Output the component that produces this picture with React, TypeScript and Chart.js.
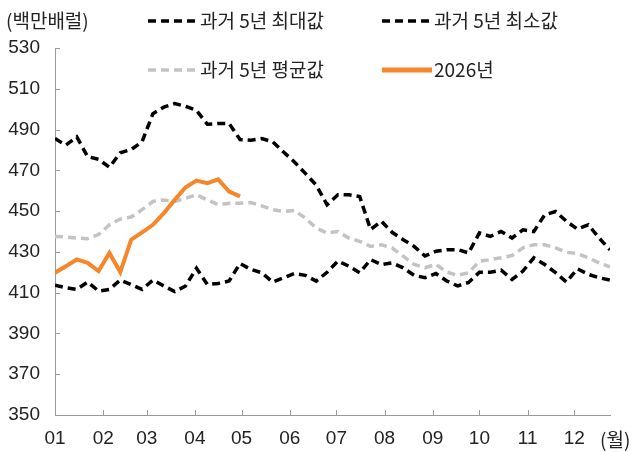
import React, { useEffect, useRef } from "react";
import { Chart, registerables } from "chart.js";

Chart.register(...registerables);

// weekly observations (week index 0..51), x = day of year
const weekIndex: number[] = [
  0, 1, 2, 3, 4, 5, 6, 7, 8, 9, 10, 11, 12, 13, 14, 15, 16, 17, 18, 19, 20, 21, 22, 23, 24, 25,
  26, 27, 28, 29, 30, 31, 32, 33, 34, 35, 36, 37, 38, 39, 40, 41, 42, 43, 44, 45, 46, 47, 48, 49, 50, 51,
];

const monthStartDays: number[] = [0, 31, 59, 90, 120, 151, 181, 212, 243, 273, 304, 334];
const monthLabels: string[] = ["01", "02", "03", "04", "05", "06", "07", "08", "09", "10", "11", "12"];
const yTickValues: number[] = [350, 370, 390, 410, 430, 450, 470, 490, 510, 530];

const max5y: number[] = [
  485.6, 482.4, 486.4, 476.7, 475.4, 471.5, 478.6, 480.2, 484.0, 497.8, 501.0, 502.7, 501.4,
  499.4, 492.6, 493.0, 493.0, 485.1, 484.8, 485.6, 484.0, 479.0, 474.1, 468.5, 462.8, 453.1,
  458.0, 458.0, 457.1, 441.0, 445.0, 439.5, 436.0, 432.7, 428.0, 430.3, 431.1, 431.1, 429.5,
  439.3, 437.6, 440.0, 436.8, 440.8, 440.0, 448.2, 449.8, 445.0, 441.2, 443.3, 436.8, 431.0,
];

const min5y: number[] = [
  413.6, 412.4, 411.6, 415.2, 410.8, 411.6, 416.2, 414.0, 411.6, 416.2, 413.3, 410.5, 413.3,
  422.0, 414.0, 414.5, 415.7, 424.3, 421.4, 419.8, 415.2, 417.3, 419.4, 418.5, 415.7, 420.0,
  425.5, 423.0, 419.8, 426.2, 423.8, 424.6, 422.2, 418.5, 417.3, 419.4, 415.7, 413.3, 415.0,
  420.0, 420.0, 421.0, 416.5, 420.6, 427.1, 423.8, 419.8, 415.2, 421.7, 419.0, 417.3, 416.2,
];

const avg5y: number[] = [
  437.6, 437.3, 436.8, 436.5, 438.5, 443.3, 446.1, 447.1, 450.7, 454.7, 455.5, 454.7, 456.3,
  458.0, 455.5, 453.1, 453.9, 453.9, 454.2, 452.6, 450.7, 449.8, 450.3, 446.6, 441.7, 439.3,
  440.0, 436.8, 435.2, 432.7, 433.5, 431.9, 427.9, 423.9, 422.2, 423.9, 420.1, 418.5, 419.8,
  425.4, 426.2, 427.1, 428.2, 432.0, 433.5, 433.5, 432.0, 429.8, 429.2, 427.1, 424.6, 422.6,
];

const y2026: number[] = [
  419.8, 423.0, 426.3, 424.6, 420.6, 429.5, 420.1, 436.0, 439.6, 443.3, 449.0, 455.5, 461.7,
  465.0, 463.7, 465.6, 459.6, 457.2,
];

const seriesNames: string[] = ["과거 5년 최대값", "과거 5년 최소값", "과거 5년 평균값", "2026년"];
const unitY = "(백만배럴)";
const unitX = "(월)";

const BLACK = "#000000";
const GRAY = "#c3c3c3";
const ORANGE = "#f5862a";
const AXIS = "#9a9a9a";
const TEXT = "#222222";
const NUM_FONT = "'Liberation Sans', Arial, sans-serif";
const KR_FONT = "'Noto Sans CJK KR', 'Liberation Sans', sans-serif";

const toPoints = (vals: number[]) => vals.map((v, i) => ({ x: weekIndex[i] * 7, y: v }));

const decorPlugin = {
  id: "decor",
  afterDraw(chart: any) {
    const ctx: CanvasRenderingContext2D = chart.ctx;
    const xs = chart.scales.x;
    const ys = chart.scales.y;
    const area = chart.chartArea;
    ctx.save();
    // inward tick marks
    ctx.strokeStyle = AXIS;
    ctx.lineWidth = 1;
    ctx.beginPath();
    yTickValues.forEach((v) => {
      const py = Math.round(ys.getPixelForValue(v)) + 0.5;
      if (v === 350) return;
      ctx.moveTo(area.left, py);
      ctx.lineTo(area.left + 5, py);
    });
    monthStartDays.forEach((d, i) => {
      if (i === 0) return;
      const px = Math.round(xs.getPixelForValue(d)) + 0.5;
      ctx.moveTo(px, area.bottom);
      ctx.lineTo(px, area.bottom - 5);
    });
    ctx.stroke();

    // unit labels
    ctx.fillStyle = TEXT;
    ctx.textBaseline = "middle";
    ctx.textAlign = "left";
    ctx.font = `19px ${KR_FONT}`;
    ctx.fillText(unitY, 6, 21);
    ctx.fillText(unitX, 600, 440);

    // legend
    const items = [
      { label: seriesNames[0], color: BLACK, dash: [8, 5], w: 3.5, x: 148, y: 21 },
      { label: seriesNames[1], color: BLACK, dash: [8, 5], w: 3.5, x: 382, y: 21 },
      { label: seriesNames[2], color: GRAY, dash: [8, 5], w: 3.5, x: 148, y: 70 },
      { label: seriesNames[3], color: ORANGE, dash: [], w: 5, x: 382, y: 70 },
    ];
    items.forEach((it) => {
      ctx.beginPath();
      ctx.setLineDash(it.dash);
      ctx.strokeStyle = it.color;
      ctx.lineWidth = it.w;
      ctx.moveTo(it.x, it.y);
      ctx.lineTo(it.x + 50, it.y);
      ctx.stroke();
      ctx.setLineDash([]);
      ctx.fillStyle = TEXT;
      ctx.fillText(it.label, it.x + 52, it.y);
    });
    ctx.restore();
  },
};

export default function App() {
  const ref = useRef<HTMLCanvasElement | null>(null);
  useEffect(() => {
    if (!ref.current) return;
    const chart = new Chart(ref.current, {
      type: "line",
      data: {
        datasets: [
          {
            label: seriesNames[3],
            data: toPoints(y2026),
            borderColor: ORANGE,
            borderWidth: 4,
            pointRadius: 0,
            tension: 0,
            order: 0,
          },
          {
            label: seriesNames[0],
            data: toPoints(max5y),
            borderColor: BLACK,
            borderWidth: 3.5,
            borderDash: [8, 5],
            pointRadius: 0,
            tension: 0,
            order: 1,
          },
          {
            label: seriesNames[1],
            data: toPoints(min5y),
            borderColor: BLACK,
            borderWidth: 3.5,
            borderDash: [8, 5],
            pointRadius: 0,
            tension: 0,
            order: 2,
          },
          {
            label: seriesNames[2],
            data: toPoints(avg5y),
            borderColor: GRAY,
            borderWidth: 3.5,
            borderDash: [8, 5],
            pointRadius: 0,
            tension: 0,
            order: 3,
          },
        ],
      },
      options: {
        animation: false,
        responsive: false,
        devicePixelRatio: 1,
        layout: { padding: { top: 48, right: 22, left: 0, bottom: 0 } },
        plugins: { legend: { display: false }, tooltip: { enabled: false } },
        scales: {
          x: {
            type: "linear",
            min: 0,
            max: 357,
            afterBuildTicks: (s: any) => {
              s.ticks = monthStartDays.map((v) => ({ value: v }));
            },
            afterFit: (s: any) => {
              s.height = 37;
            },
            ticks: {
              autoSkip: false,
              maxRotation: 0,
              padding: 12,
              color: TEXT,
              font: { family: NUM_FONT, size: 19 },
              callback: (_v: any, i: number) => monthLabels[i],
            },
            grid: { display: false, drawTicks: false },
            border: { display: true, color: AXIS, width: 1 },
          },
          y: {
            type: "linear",
            min: 350,
            max: 530,
            afterBuildTicks: (s: any) => {
              s.ticks = yTickValues.map((v) => ({ value: v }));
            },
            afterFit: (s: any) => {
              s.width = 55;
            },
            ticks: {
              padding: 15,
              color: TEXT,
              font: { family: NUM_FONT, size: 19 },
            },
            grid: { display: false, drawTicks: false },
            border: { display: true, color: AXIS, width: 1 },
          },
        },
      },
      plugins: [decorPlugin],
    });
    return () => chart.destroy();
  }, []);
  return (
    <div style={{ position: "absolute", left: 0, top: 0, width: 632, height: 452, background: "#fff" }}>
      <canvas ref={ref} width={632} height={452} style={{ width: 632, height: 452 }} />
    </div>
  );
}
